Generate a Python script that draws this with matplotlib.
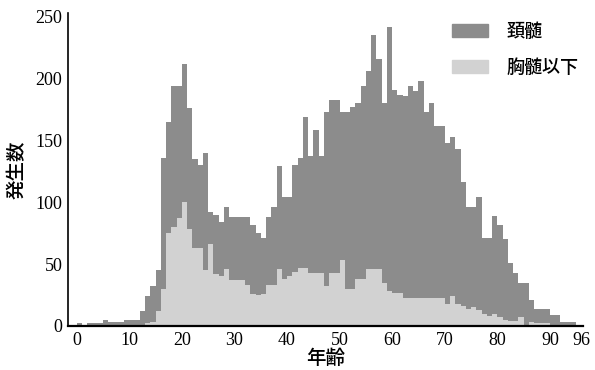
import numpy as np
import matplotlib
matplotlib.use("Agg")
import matplotlib.pyplot as plt
from matplotlib.patches import Patch

plt.rcParams['font.family'] = ['Liberation Serif', 'Noto Sans CJK JP']

# age 0..95, one bar per year
ages = np.arange(0, 96)

# 頚髄 (cervical)
cervical = [
    2, 0, 2, 2, 2, 5, 3, 3, 3, 5,          # 0-9
    5, 5, 12, 24, 32, 45, 136, 165, 194, 194,  # 10-19
    212, 176, 135, 130, 140, 92, 90, 84, 96, 88,  # 20-29
    88, 88, 88, 82, 75, 71, 88, 96, 129, 104,  # 30-39
    104, 130, 136, 169, 137, 158, 137, 173, 183, 183,  # 40-49
    173, 173, 177, 180, 194, 206, 235, 216, 180, 242,  # 50-59
    191, 187, 186, 194, 190, 198, 173, 180, 162, 162,  # 60-69
    148, 153, 143, 116, 96, 96, 104, 71, 71, 89,  # 70-79
    82, 70, 51, 43, 35, 35, 21, 14, 14, 14,  # 80-89
    9, 9, 3, 3, 3, 0,                      # 90-95
]

# 胸髄以下 (thoracic and below)
thoracic = [
    0, 0, 0, 0, 0, 0, 0, 0, 0, 0,          # 0-9
    0, 0, 0, 2, 3, 12, 30, 75, 80, 87,     # 10-19
    100, 78, 63, 63, 45, 66, 42, 40, 46, 37,  # 20-29
    37, 37, 33, 26, 25, 26, 33, 33, 46, 38,  # 30-39
    40, 44, 47, 47, 43, 43, 43, 32, 43, 43,  # 40-49
    53, 30, 30, 38, 38, 46, 46, 46, 35, 28,  # 50-59
    27, 27, 23, 23, 23, 23, 23, 23, 23, 23,  # 60-69
    18, 24, 18, 16, 14, 15, 13, 10, 8, 10,  # 70-79
    7, 5, 4, 4, 7, 0, 3, 2, 2, 2,          # 80-89
    1, 1, 0, 0, 0, 0,                      # 90-95
]

xticks = [0, 10, 20, 30, 40, 50, 60, 70, 80, 90, 96]
yticks = [0, 50, 100, 150, 200, 250]

dark = '#8c8c8c'
light = '#d2d2d2'

fig = plt.figure(figsize=(5.95, 3.70), dpi=100)
ax = fig.add_axes([0.114, 0.119, 0.865, 0.846])

ax.bar(ages, cervical, width=1, align='edge', color=dark, linewidth=0)
ax.bar(ages, thoracic, width=1, align='edge', color=light, linewidth=0)

ax.set_xlim(-1.7, 96.2)
ax.set_ylim(0, 253)
ax.set_xticks(xticks)
ax.set_yticks(yticks)
ax.tick_params(length=0, labelsize=13, pad=4)
for s in ['top', 'right']:
    ax.spines[s].set_visible(False)
ax.spines['left'].set_linewidth(1.2)
ax.spines['bottom'].set_linewidth(1.6)

cjk = ['Noto Sans CJK JP']
ax.set_xlabel('年齢', fontsize=14, family=cjk, weight='medium', labelpad=0)
ax.set_ylabel('発生数', fontsize=14, family=cjk, weight='medium', labelpad=6)

handles = [Patch(color=dark), Patch(color=light)]
ax.legend(handles, ['頚髄', '胸髄以下'], loc='upper right',
          bbox_to_anchor=(1.024, 1.02), frameon=False,
          prop={'family': cjk, 'size': 13, 'weight': 'medium'},
          handlelength=2.0, handleheight=0.75, labelspacing=1.0,
          handletextpad=1.05)

fig.savefig('out.png', dpi=100)
